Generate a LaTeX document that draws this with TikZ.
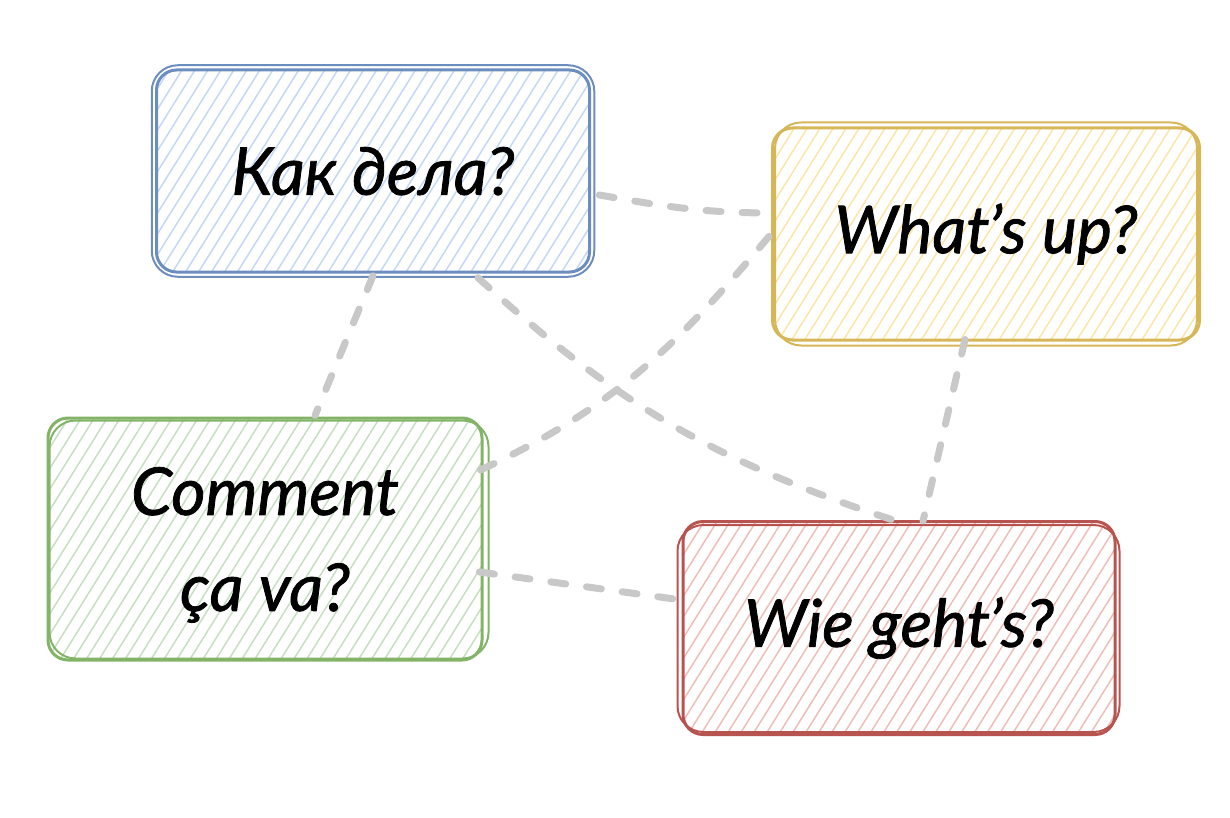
\documentclass[tikz,border=0pt]{standalone}
\usepackage{fontspec}
\setmainfont{Lato}[ItalicFeatures={FakeBold=1.2}]
\usepackage{tikz}
\usetikzlibrary{patterns.meta}

\definecolor{kakline}{HTML}{6C8EBF}
\definecolor{kakfill}{HTML}{C4D8F5}
\definecolor{whatline}{HTML}{D6B656}
\definecolor{whatfill}{HTML}{FAE6A8}
\definecolor{comline}{HTML}{82B366}
\definecolor{comfill}{HTML}{C7DEC3}
\definecolor{wieline}{HTML}{B85450}
\definecolor{wiefill}{HTML}{EEBDB8}
\definecolor{linkgray}{HTML}{C8C8C8}

\tikzset{
  card/.style={draw=#1line, line width=3pt, rounded corners=20pt,
    pattern={Lines[angle=58,distance=11pt,line width=1.5pt]}, pattern color=#1fill,
    font=\itshape\fontsize{66}{96}\selectfont, align=center, inner sep=0pt},
  sketch/.style={draw=#1line, line width=2pt, rounded corners=26pt},
  link/.style={draw=linkgray, line width=7pt, line cap=round, dash pattern=on 15pt off 21pt}
}

\begin{document}
\begin{tikzpicture}[x=1pt,y=-1pt]
  \useasboundingbox (0,0) rectangle (1230,818);

  \coordinate (kakpos) at (373,171);
  \coordinate (whatpos) at (986,234);
  \coordinate (compos) at (265,539);
  \coordinate (wiepos) at (899,628);

  \node[card=kak, minimum width=433pt, minimum height=202pt] (kak) at (kakpos) {Как дела?};
  \node[card=what, minimum width=427pt, minimum height=212pt] (what) at (whatpos) {What’s up?};
  \node[card=com, minimum width=434pt, minimum height=242pt, text depth=-8pt] (com) at (compos) {Comment\\ça va?};
  \node[card=wie, minimum width=432pt, minimum height=213pt] (wie) at (wiepos) {Wie geht’s?};

  % second rough outline
  \draw[sketch=kak] ([shift={(-4,-4)}]kak.north west) rectangle ([shift={(4,4)}]kak.south east);
  \draw[sketch=what] ([shift={(4,-4)}]what.north west) rectangle ([shift={(-4,4)}]what.south east);
  \draw[sketch=com] ([shift={(3,4)}]com.north west) rectangle ([shift={(5,-3)}]com.south east);
  \draw[sketch=wie] ([shift={(-4,5)}]wie.north west) rectangle ([shift={(3,-4)}]wie.south east);

  \path[link]
  ([shift={(9,24)}]kak.east) edge[out=-10,in=180] ([shift={(2,-21)}]what.west)
  ([shift={(0,3)}]kak.south) edge ([shift={(50,-1)}]com.north)
  ([shift={(105,5)}]kak.south) edge[bend right=12] ([shift={(-6,0)}]wie.north)
  ([shift={(-3,-69)}]com.east) edge[out=25,in=230] (what.west)
  ([shift={(-4,33)}]com.east) edge ([shift={(0,-28)}]wie.west)
  ([shift={(-21,-2)}]what.south) edge ([shift={(24,1)}]wie.north);
\end{tikzpicture}
\end{document}
